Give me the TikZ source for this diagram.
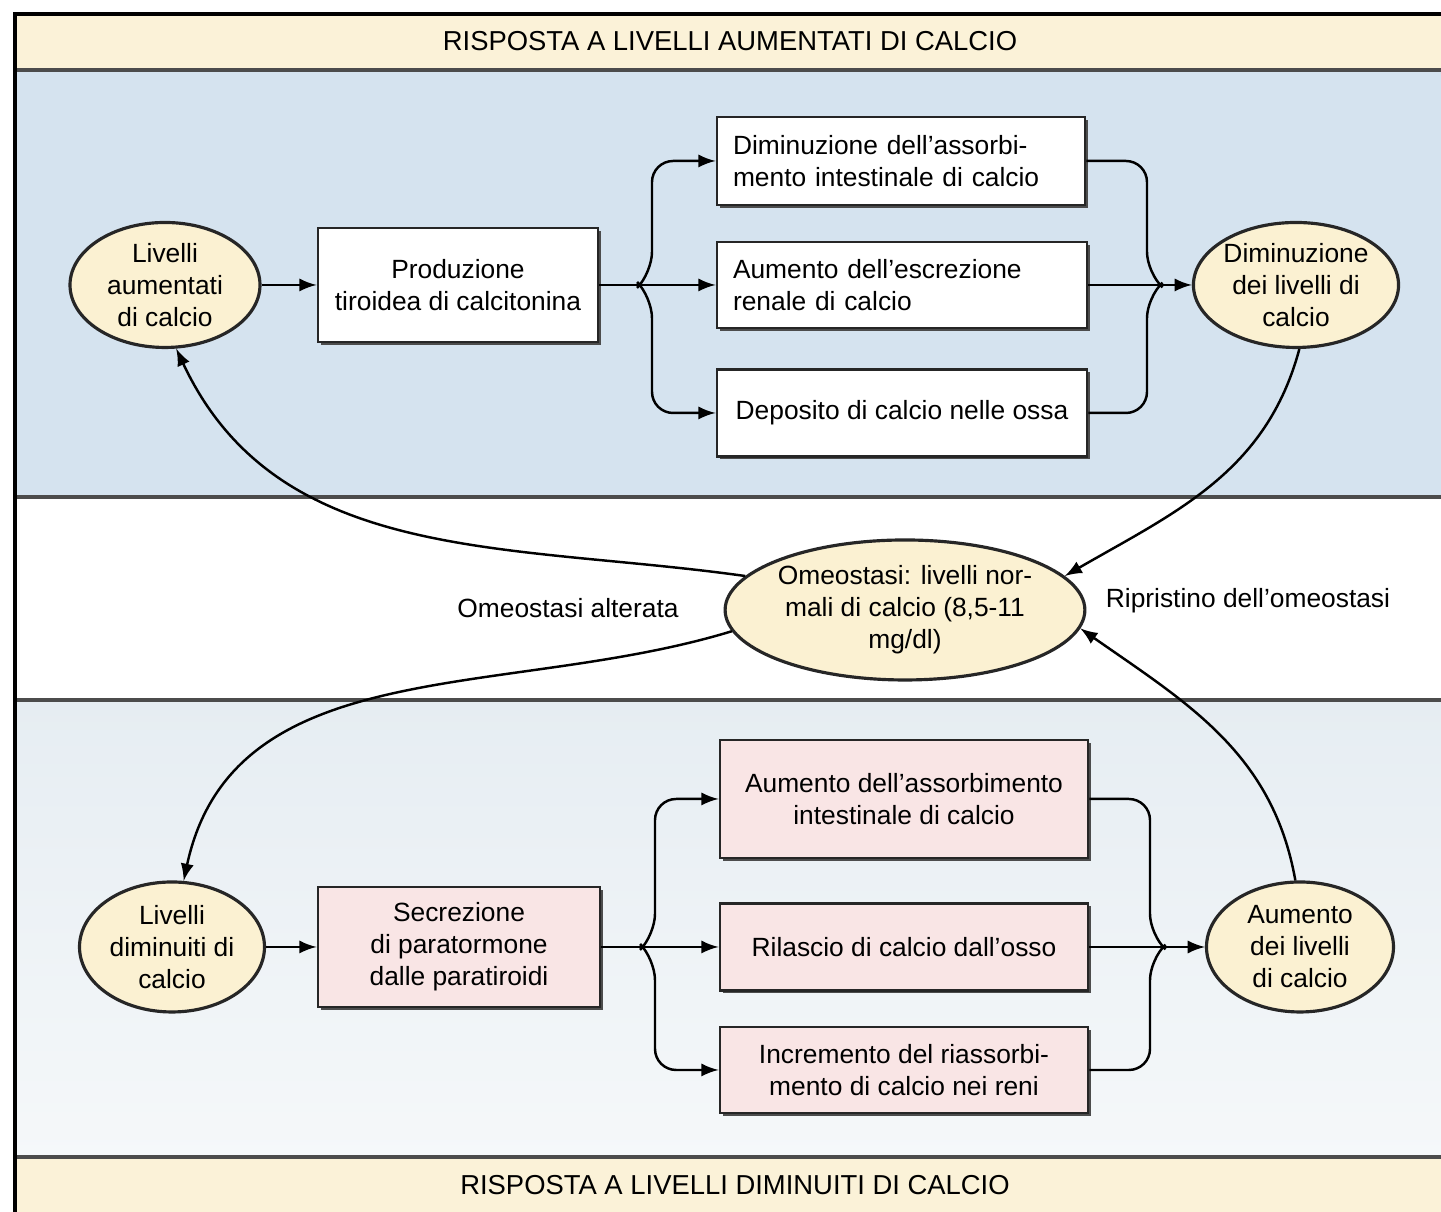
\documentclass[tikz,border=0pt]{standalone}
\usepackage{fontspec}
\setmainfont{Liberation Sans}
\usetikzlibrary{shapes.geometric,shadows}
\definecolor{crema}{HTML}{FBF2D8}
\definecolor{celeste}{HTML}{D5E3EF}
\definecolor{grigioazz}{HTML}{E6EDF2}
\definecolor{giallino}{HTML}{FBF1D2}
\definecolor{rosa}{HTML}{F9E5E5}
\begin{document}
\begin{tikzpicture}[x=0.1mm, y=0.1mm, >=latex,
  font=\fontsize{7.5}{9.1}\selectfont,
  livello/.style={ellipse, draw=black!85, line width=0.9pt, fill=giallino, align=center, inner sep=0pt},
  effetto/.style={rectangle, draw=black!85, line width=0.8pt, inner sep=2pt,
    drop shadow={shadow xshift=0.8pt, shadow yshift=-0.8pt, fill=black!70, opacity=1}},
  freccia/.style={->, line width=0.7pt},
  titolo/.style={font=\fontsize{7.8}{9}\selectfont}]
\useasboundingbox (0,0) rectangle (1441,1212);
% bande di sfondo
\fill[crema] (15,1142) rectangle (1441,1198);
\fill[celeste] (15,715) rectangle (1441,1142);
\fill[white] (15,512) rectangle (1441,715);
\shade[top color=grigioazz, bottom color=grigioazz!40] (15,55) rectangle (1441,512);
\fill[crema] (15,0) rectangle (1441,55);
\foreach \y in {1142,715,512,55}
    \draw[line width=1.2pt, black!70] (15,\y) -- (1441,\y);
\draw[line width=1pt] (15,0) -- (15,1198) -- (1441,1198);

\node[titolo] (titsu) at (730,1171) {RISPOSTA A LIVELLI AUMENTATI DI CALCIO};
\node[titolo] (titgiu) at (735,27) {RISPOSTA A LIVELLI DIMINUITI DI CALCIO};

% calcio aumentato
\node[livello, minimum width=19mm, minimum height=12.5mm] (aum) at (165,927) {Livelli\\aumentati\\di calcio};
\node[effetto, fill=white, minimum width=28mm, minimum height=11.4mm, align=center] (prod) at (458,927) {Produzione\\tiroidea di calcitonina};
\node[effetto, fill=white, text width=33.6mm, inner xsep=1.6mm, minimum height=8.8mm, align=left] (dimass) at (901,1051) {Diminuzione dell’assorbi-\\mento intestinale di calcio};
\node[effetto, fill=white, text width=33.8mm, inner xsep=1.6mm, minimum height=8.6mm, align=left] (escr) at (902,927) {Aumento dell’escrezione\\renale di calcio};
\node[effetto, fill=white, minimum width=37mm, minimum height=8.7mm] (depo) at (902,799) {Deposito di calcio nelle ossa};
\node[livello, minimum width=19mm, minimum height=12.5mm] (dimliv) at (1296,927) {Diminuzione\\dei livelli di\\calcio};
\coordinate (divsu) at (640,927);
\coordinate (unisu) at (1160,927);

\draw[freccia] (aum) -- (prod);
\draw[freccia] (prod) -- (escr);
\draw[freccia, rounded corners=6] (divsu) -- ++(12,12) |- (dimass.west);
\draw[freccia, rounded corners=6] (divsu) -- ++(12,-12) |- (depo.west);
\draw[line width=0.7pt, rounded corners=6] (dimass.east) -| ([shift={(-13,12)}]unisu) -- (unisu);
\draw[line width=0.7pt, rounded corners=6] (depo.east) -| ([shift={(-13,-12)}]unisu) -- (unisu);
\draw[freccia] (escr) -- (dimliv);

% calcio diminuito
\node[livello, minimum width=18.5mm, minimum height=13mm] (dimin) at (172,265) {Livelli\\diminuiti di\\calcio};
\node[effetto, fill=rosa, minimum width=28.2mm, minimum height=12mm, align=center] (secr) at (459,265) {Secrezione\\di paratormone\\dalle paratiroidi};
\node[effetto, fill=rosa, minimum width=36.8mm, minimum height=11.8mm, align=center] (aumass) at (904,413) {Aumento dell’assorbimento\\intestinale di calcio};
\node[effetto, fill=rosa, minimum width=36.8mm, minimum height=8.7mm] (rila) at (904,265) {Rilascio di calcio dall’osso};
\node[effetto, fill=rosa, minimum width=36.8mm, minimum height=8.6mm, align=center] (incr) at (904,142) {Incremento del riassorbi-\\mento di calcio nei reni};
\node[livello, minimum width=18.7mm, minimum height=13mm] (aumliv) at (1300,265) {Aumento\\dei livelli\\di calcio};
\coordinate (divgiu) at (643,265);
\coordinate (unigiu) at (1163,265);

\draw[freccia] (dimin) -- (secr);
\draw[freccia] (secr) -- (rila);
\draw[freccia, rounded corners=6] (divgiu) -- ++(12,12) |- (aumass.west);
\draw[freccia, rounded corners=6] (divgiu) -- ++(12,-12) |- (incr.west);
\draw[line width=0.7pt, rounded corners=6] (aumass.east) -| ([shift={(-13,12)}]unigiu) -- (unigiu);
\draw[line width=0.7pt, rounded corners=6] (incr.east) -| ([shift={(-13,-12)}]unigiu) -- (unigiu);
\draw[freccia] (rila) -- (aumliv);

% omeostasi
\node[livello, minimum width=34.5mm, minimum height=14mm] (omeo) at (905,602) {Omeostasi: livelli nor-\\mali di calcio (8,5-11\\mg/dl)};
\node (alter) at (568,604) {Omeostasi alterata};
\node (ripr) at (1248,611) {Ripristino dell’omeostasi};

\draw[freccia] (omeo.168) to[out=172, in=-65] (aum.-80);
\draw[freccia] (dimliv.-87) to[out=-105, in=30] (omeo.12);
\draw[freccia] (omeo.187) to[out=197, in=78] (dimin.80);
\draw[freccia] (aumliv.94) to[out=100, in=-35] (omeo.-6);
\end{tikzpicture}
\end{document}
